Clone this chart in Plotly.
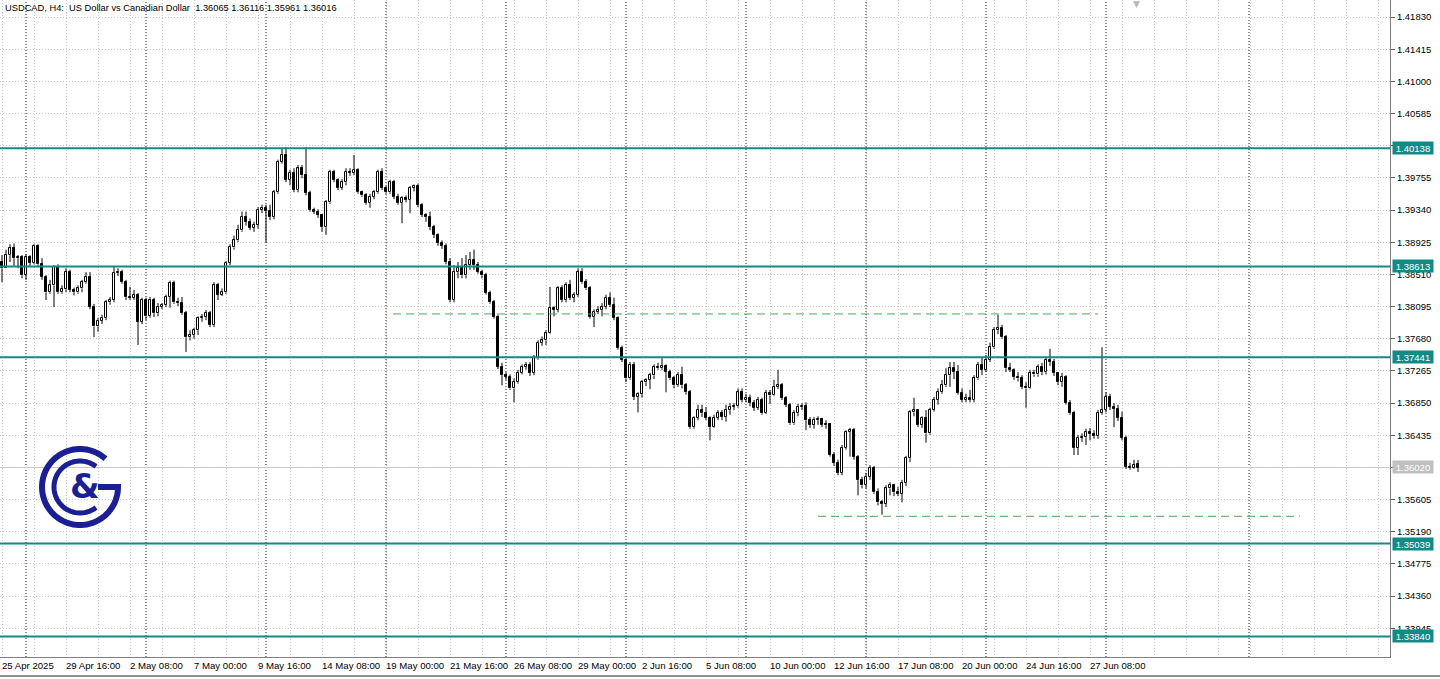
import math
import plotly.graph_objects as go

title_text = "USDCAD, H4:  US Dollar vs Canadian Dollar  1.36065 1.36116 1.35961 1.36016"

opens = [
    1.3867, 1.3859, 1.3876, 1.3885, 1.3872, 1.3873, 1.3850, 1.3873, 1.3866, 1.3888,
    1.3864, 1.3848, 1.3828, 1.3837, 1.3861, 1.3828, 1.3832, 1.3854, 1.3831, 1.3828,
    1.3833, 1.3841, 1.3848, 1.3809, 1.3784, 1.3791, 1.3795, 1.3815, 1.3818, 1.3853,
    1.3854, 1.3841, 1.3822, 1.3821, 1.3825, 1.3790, 1.3818, 1.3797, 1.3818, 1.3801,
    1.3809, 1.3812, 1.3822, 1.3840, 1.3815, 1.3814, 1.3801, 1.3770, 1.3773, 1.3779,
    1.3795, 1.3796, 1.3801, 1.3786, 1.3837, 1.3825, 1.3828, 1.3866, 1.3886, 1.3895,
    1.3908, 1.3925, 1.3919, 1.3911, 1.3915, 1.3934, 1.3937, 1.3933, 1.3925, 1.3957,
    1.3996, 1.4005, 1.3973, 1.3982, 1.3960, 1.3988, 1.3979, 1.3956, 1.3934, 1.3932,
    1.3928, 1.3912, 1.3944, 1.3983, 1.3973, 1.3963, 1.3970, 1.3983, 1.3982, 1.3986,
    1.3957, 1.3953, 1.3943, 1.3951, 1.3957, 1.3983, 1.3963, 1.3957, 1.3970, 1.3951,
    1.3943, 1.3950, 1.3947, 1.3963, 1.3965, 1.3941, 1.3928, 1.3925, 1.3912, 1.3902,
    1.3892, 1.3888, 1.3867, 1.3818, 1.3854, 1.3859, 1.3850, 1.3863, 1.3870, 1.3863,
    1.3854, 1.3850, 1.3827, 1.3815, 1.3796, 1.3732, 1.3721, 1.3719, 1.3704, 1.3712,
    1.3724, 1.3732, 1.3734, 1.3724, 1.3743, 1.3763, 1.3766, 1.3775, 1.3808, 1.3805,
    1.3833, 1.3818, 1.3837, 1.3821, 1.3825, 1.3854, 1.3841, 1.3833, 1.3796, 1.3803,
    1.3805, 1.3809, 1.3821, 1.3812, 1.3795, 1.3756, 1.3741, 1.3717, 1.3734, 1.3693,
    1.3697, 1.3712, 1.3715, 1.3721, 1.3732, 1.3730, 1.3733, 1.3725, 1.3717, 1.3708,
    1.3721, 1.3708, 1.3699, 1.3654, 1.3666, 1.3676, 1.3672, 1.3666, 1.3654, 1.3666,
    1.3672, 1.3667, 1.3676, 1.3680, 1.3681, 1.3699, 1.3689, 1.3692, 1.3685, 1.3679,
    1.3689, 1.3672, 1.3698, 1.3695, 1.3706, 1.3708, 1.3692, 1.3683, 1.3659, 1.3672,
    1.3680, 1.3681, 1.3663, 1.3657, 1.3663, 1.3665, 1.3657, 1.3658, 1.3618, 1.3608,
    1.3595, 1.3627, 1.3648, 1.3650, 1.3616, 1.3586, 1.3579, 1.3590, 1.3601, 1.3570,
    1.3557, 1.3555, 1.3575, 1.3579, 1.3570, 1.3568, 1.3582, 1.3614, 1.3673, 1.3676,
    1.3657, 1.3666, 1.3646, 1.3676, 1.3689, 1.3699, 1.3708, 1.3721, 1.3730, 1.3725,
    1.3698, 1.3689, 1.3692, 1.3689, 1.3717, 1.3734, 1.3728, 1.3741, 1.3757, 1.3779,
    1.3782, 1.3770, 1.3730, 1.3728, 1.3719, 1.3717, 1.3706, 1.3704, 1.3724, 1.3722,
    1.3732, 1.3725, 1.3741, 1.3738, 1.3724, 1.3712, 1.3719, 1.3685, 1.3672, 1.3627,
    1.3640, 1.3641, 1.3648, 1.3645, 1.3643, 1.3672, 1.3676, 1.3693, 1.3680, 1.3678,
    1.3666, 1.3640, 1.3603, 1.3601, 1.36065,
]

highs = [
    1.3876, 1.3883, 1.3890, 1.3891, 1.3876, 1.3876, 1.3877, 1.3876, 1.3890, 1.3890,
    1.3872, 1.3850, 1.3844, 1.3863, 1.3864, 1.3837, 1.3859, 1.3857, 1.3834, 1.3837,
    1.3844, 1.3854, 1.3854, 1.3813, 1.3795, 1.3799, 1.3818, 1.3822, 1.3861, 1.3859,
    1.3857, 1.3844, 1.3835, 1.3831, 1.3827, 1.3821, 1.3821, 1.3822, 1.3821, 1.3814,
    1.3814, 1.3825, 1.3843, 1.3843, 1.3821, 1.3822, 1.3804, 1.3779, 1.3782, 1.3797,
    1.3800, 1.3805, 1.3804, 1.3841, 1.3840, 1.3833, 1.3868, 1.3890, 1.3901, 1.3915,
    1.3932, 1.3932, 1.3923, 1.3919, 1.3938, 1.3941, 1.3941, 1.3941, 1.3960, 1.3999,
    1.4014, 1.4015, 1.3986, 1.3988, 1.3992, 1.3992, 1.4015, 1.3959, 1.3937, 1.3935,
    1.3929, 1.3947, 1.3986, 1.3986, 1.3975, 1.3974, 1.3988, 1.3988, 1.4005, 1.3988,
    1.3959, 1.3956, 1.3955, 1.3960, 1.3986, 1.3988, 1.3965, 1.3973, 1.3973, 1.3955,
    1.3952, 1.3953, 1.3965, 1.3967, 1.3968, 1.3943, 1.3930, 1.3932, 1.3915, 1.3904,
    1.3895, 1.3891, 1.3872, 1.3863, 1.3867, 1.3872, 1.3876, 1.3880, 1.3883, 1.3867,
    1.3857, 1.3853, 1.3830, 1.3818, 1.3799, 1.3737, 1.3725, 1.3722, 1.3717, 1.3728,
    1.3735, 1.3738, 1.3738, 1.3747, 1.3766, 1.3771, 1.3779, 1.3835, 1.3810, 1.3836,
    1.3837, 1.3841, 1.3844, 1.3828, 1.3859, 1.3859, 1.3845, 1.3836, 1.3806, 1.3810,
    1.3814, 1.3825, 1.3828, 1.3821, 1.3797, 1.3759, 1.3743, 1.3738, 1.3738, 1.3699,
    1.3715, 1.3717, 1.3724, 1.3735, 1.3737, 1.3743, 1.3735, 1.3728, 1.3720, 1.3725,
    1.3732, 1.3711, 1.3702, 1.3668, 1.3683, 1.3683, 1.3680, 1.3668, 1.3670, 1.3676,
    1.3676, 1.3683, 1.3685, 1.3685, 1.3704, 1.3704, 1.3697, 1.3696, 1.3689, 1.3693,
    1.3692, 1.3702, 1.3702, 1.3715, 1.3728, 1.3711, 1.3694, 1.3685, 1.3676, 1.3684,
    1.3685, 1.3686, 1.3667, 1.3667, 1.3668, 1.3666, 1.3663, 1.3659, 1.3622, 1.3612,
    1.3631, 1.3650, 1.3653, 1.3653, 1.3618, 1.3590, 1.3595, 1.3605, 1.3604, 1.3575,
    1.3560, 1.3579, 1.3583, 1.3581, 1.3577, 1.3586, 1.3617, 1.3676, 1.3692, 1.3677,
    1.3668, 1.3676, 1.3679, 1.3693, 1.3704, 1.3715, 1.3730, 1.3738, 1.3738, 1.3734,
    1.3704, 1.3697, 1.3702, 1.3721, 1.3738, 1.3744, 1.3747, 1.3763, 1.3783, 1.3799,
    1.3786, 1.3773, 1.3737, 1.3730, 1.3725, 1.3721, 1.3712, 1.3728, 1.3728, 1.3735,
    1.3737, 1.3744, 1.3755, 1.3742, 1.3725, 1.3724, 1.3721, 1.3689, 1.3675, 1.3644,
    1.3646, 1.3652, 1.3653, 1.3650, 1.3676, 1.3757, 1.3699, 1.3697, 1.3685, 1.3683,
    1.3674, 1.3643, 1.3608, 1.3612, 1.36116,
]

lows = [
    1.3841, 1.3859, 1.3867, 1.3861, 1.3859, 1.3846, 1.3844, 1.3862, 1.3864, 1.3861,
    1.3844, 1.3818, 1.3826, 1.3809, 1.3826, 1.3826, 1.3828, 1.3828, 1.3824, 1.3826,
    1.3828, 1.3839, 1.3806, 1.3770, 1.3777, 1.3787, 1.3792, 1.3812, 1.3815, 1.3849,
    1.3839, 1.3818, 1.3818, 1.3818, 1.3760, 1.3787, 1.3792, 1.3795, 1.3796, 1.3797,
    1.3806, 1.3809, 1.3808, 1.3813, 1.3810, 1.3799, 1.3751, 1.3766, 1.3768, 1.3773,
    1.3790, 1.3792, 1.3783, 1.3783, 1.3818, 1.3823, 1.3826, 1.3863, 1.3883, 1.3893,
    1.3906, 1.3914, 1.3908, 1.3906, 1.3910, 1.3930, 1.3892, 1.3921, 1.3922, 1.3955,
    1.3994, 1.3970, 1.3966, 1.3957, 1.3957, 1.3975, 1.3953, 1.3932, 1.3929, 1.3924,
    1.3906, 1.3902, 1.3942, 1.3970, 1.3960, 1.3960, 1.3966, 1.3978, 1.3979, 1.3955,
    1.3951, 1.3941, 1.3937, 1.3948, 1.3955, 1.3960, 1.3955, 1.3955, 1.3948, 1.3941,
    1.3917, 1.3944, 1.3930, 1.3958, 1.3938, 1.3925, 1.3919, 1.3908, 1.3898, 1.3888,
    1.3884, 1.3864, 1.3815, 1.3815, 1.3846, 1.3846, 1.3846, 1.3857, 1.3857, 1.3852,
    1.3846, 1.3825, 1.3813, 1.3794, 1.3729, 1.3708, 1.3715, 1.3702, 1.3686, 1.3710,
    1.3722, 1.3728, 1.3720, 1.3721, 1.3741, 1.3759, 1.3760, 1.3774, 1.3797, 1.3802,
    1.3815, 1.3815, 1.3818, 1.3815, 1.3822, 1.3839, 1.3831, 1.3794, 1.3783, 1.3800,
    1.3797, 1.3806, 1.3809, 1.3792, 1.3754, 1.3738, 1.3712, 1.3715, 1.3689, 1.3673,
    1.3692, 1.3707, 1.3703, 1.3716, 1.3728, 1.3728, 1.3699, 1.3715, 1.3704, 1.3706,
    1.3704, 1.3696, 1.3652, 1.3652, 1.3663, 1.3667, 1.3663, 1.3637, 1.3653, 1.3663,
    1.3663, 1.3661, 1.3670, 1.3676, 1.3679, 1.3686, 1.3686, 1.3681, 1.3675, 1.3676,
    1.3670, 1.3671, 1.3684, 1.3694, 1.3703, 1.3689, 1.3680, 1.3657, 1.3657, 1.3668,
    1.3676, 1.3650, 1.3653, 1.3652, 1.3657, 1.3654, 1.3652, 1.3616, 1.3604, 1.3592,
    1.3592, 1.3625, 1.3616, 1.3612, 1.3566, 1.3575, 1.3575, 1.3586, 1.3568, 1.3553,
    1.3541, 1.3551, 1.3566, 1.3565, 1.3565, 1.3557, 1.3578, 1.3609, 1.3668, 1.3654,
    1.3653, 1.3634, 1.3644, 1.3674, 1.3683, 1.3697, 1.3706, 1.3706, 1.3716, 1.3696,
    1.3686, 1.3686, 1.3686, 1.3686, 1.3715, 1.3721, 1.3725, 1.3738, 1.3755, 1.3774,
    1.3768, 1.3725, 1.3725, 1.3715, 1.3713, 1.3703, 1.3679, 1.3703, 1.3719, 1.3719,
    1.3721, 1.3722, 1.3733, 1.3720, 1.3708, 1.3706, 1.3683, 1.3670, 1.3618, 1.3618,
    1.3635, 1.3631, 1.3637, 1.3639, 1.3639, 1.3670, 1.3673, 1.3676, 1.3654, 1.3662,
    1.3637, 1.3600, 1.3599, 1.3600, 1.35961,
]

closes = [
    1.3859, 1.3876, 1.3885, 1.3872, 1.3873, 1.3850, 1.3873, 1.3866, 1.3888, 1.3864,
    1.3848, 1.3828, 1.3837, 1.3861, 1.3828, 1.3832, 1.3854, 1.3831, 1.3828, 1.3833,
    1.3841, 1.3848, 1.3809, 1.3784, 1.3791, 1.3795, 1.3815, 1.3818, 1.3853, 1.3854,
    1.3841, 1.3822, 1.3821, 1.3825, 1.3790, 1.3818, 1.3797, 1.3818, 1.3801, 1.3809,
    1.3812, 1.3822, 1.3840, 1.3815, 1.3814, 1.3801, 1.3770, 1.3773, 1.3779, 1.3795,
    1.3796, 1.3801, 1.3786, 1.3837, 1.3825, 1.3828, 1.3866, 1.3886, 1.3895, 1.3908,
    1.3925, 1.3919, 1.3911, 1.3915, 1.3934, 1.3937, 1.3933, 1.3925, 1.3957, 1.3996,
    1.4005, 1.3973, 1.3982, 1.3960, 1.3988, 1.3979, 1.3956, 1.3934, 1.3932, 1.3928,
    1.3912, 1.3944, 1.3983, 1.3973, 1.3963, 1.3970, 1.3983, 1.3982, 1.3986, 1.3957,
    1.3953, 1.3943, 1.3951, 1.3957, 1.3983, 1.3963, 1.3957, 1.3970, 1.3951, 1.3943,
    1.3950, 1.3947, 1.3963, 1.3965, 1.3941, 1.3928, 1.3925, 1.3912, 1.3902, 1.3892,
    1.3888, 1.3867, 1.3818, 1.3854, 1.3859, 1.3850, 1.3863, 1.3870, 1.3863, 1.3854,
    1.3850, 1.3827, 1.3815, 1.3796, 1.3732, 1.3721, 1.3719, 1.3704, 1.3712, 1.3724,
    1.3732, 1.3734, 1.3724, 1.3743, 1.3763, 1.3766, 1.3775, 1.3808, 1.3805, 1.3833,
    1.3818, 1.3837, 1.3821, 1.3825, 1.3854, 1.3841, 1.3833, 1.3796, 1.3803, 1.3805,
    1.3809, 1.3821, 1.3812, 1.3795, 1.3756, 1.3741, 1.3717, 1.3734, 1.3693, 1.3697,
    1.3712, 1.3715, 1.3721, 1.3732, 1.3730, 1.3733, 1.3725, 1.3717, 1.3708, 1.3721,
    1.3708, 1.3699, 1.3654, 1.3666, 1.3676, 1.3672, 1.3666, 1.3654, 1.3666, 1.3672,
    1.3667, 1.3676, 1.3680, 1.3681, 1.3699, 1.3689, 1.3692, 1.3685, 1.3679, 1.3689,
    1.3672, 1.3698, 1.3695, 1.3706, 1.3708, 1.3692, 1.3683, 1.3659, 1.3672, 1.3680,
    1.3681, 1.3663, 1.3657, 1.3663, 1.3665, 1.3657, 1.3658, 1.3618, 1.3608, 1.3595,
    1.3627, 1.3648, 1.3650, 1.3616, 1.3586, 1.3579, 1.3590, 1.3601, 1.3570, 1.3557,
    1.3555, 1.3575, 1.3579, 1.3570, 1.3568, 1.3582, 1.3614, 1.3673, 1.3676, 1.3657,
    1.3666, 1.3646, 1.3676, 1.3689, 1.3699, 1.3708, 1.3721, 1.3730, 1.3725, 1.3698,
    1.3689, 1.3692, 1.3689, 1.3717, 1.3734, 1.3728, 1.3741, 1.3757, 1.3779, 1.3782,
    1.3770, 1.3730, 1.3728, 1.3719, 1.3717, 1.3706, 1.3704, 1.3724, 1.3722, 1.3732,
    1.3725, 1.3741, 1.3738, 1.3724, 1.3712, 1.3719, 1.3685, 1.3672, 1.3627, 1.3640,
    1.3641, 1.3648, 1.3645, 1.3643, 1.3672, 1.3676, 1.3693, 1.3680, 1.3678, 1.3666,
    1.3640, 1.3603, 1.3601, 1.3605, 1.36016,
]

time_labels = ["25 Apr 2025", "29 Apr 16:00", "2 May 08:00", "7 May 00:00", "9 May 16:00",
               "14 May 08:00", "19 May 00:00", "21 May 16:00", "26 May 08:00", "29 May 00:00",
               "2 Jun 16:00", "5 Jun 08:00", "10 Jun 00:00", "12 Jun 16:00", "17 Jun 08:00",
               "20 Jun 00:00", "24 Jun 16:00", "27 Jun 08:00"]
label_bars = [0, 16, 32, 48, 64, 80, 96, 112, 128, 144, 160, 176, 192, 208, 224, 240, 256, 272]

price_ticks = [1.33945, 1.34360, 1.34775, 1.35190, 1.35605, 1.36020, 1.36435, 1.36850,
               1.37265, 1.37680, 1.38095, 1.38510, 1.38925, 1.39340, 1.39755, 1.40170,
               1.40585, 1.41000, 1.41415, 1.41830]

level_prices = [1.40138, 1.38613, 1.37441, 1.35039, 1.33840]
bid_price = 1.36020
week_separator_bars = [6, 36, 66, 96, 126, 156, 186, 216, 246, 276, 311.75]
dashed_starts = [97.75, 204]
dashed_ends = [274, 324.5]
dashed_prices = [1.3800, 1.3539]

TEAL = "#128a86"
NAVY = "#1b1f96"
FONT = "Liberation Sans, Arial, sans-serif"
PLOT_W, PLOT_H = 1390, 657

bars = list(range(len(closes)))
body_base = [min(o, c) for o, c in zip(opens, closes)]
body_size = [abs(c - o) for o, c in zip(opens, closes)]
body_fill = ["#ffffff" if c >= o else "#000000" for o, c in zip(opens, closes)]

wick_x, wick_y = [], []
for i, o, h, l, c in zip(bars, opens, highs, lows, closes):
    top, bot = max(o, c), min(o, c)
    wick_x += [i, i, None, i, i, None]
    wick_y += [h, top, None, bot, l, None]

fig = go.Figure()
fig.add_trace(go.Scatter(x=wick_x, y=wick_y, mode="lines", line=dict(color="#000000", width=1),
                         hoverinfo="skip", showlegend=False, connectgaps=False))
fig.add_trace(go.Bar(x=bars, y=body_size, base=body_base, width=0.72,
                     marker=dict(color=body_fill, line=dict(color="#000000", width=1)),
                     hoverinfo="skip", showlegend=False))

shapes = []
for b in week_separator_bars:
    shapes.append(dict(type="line", xref="x", yref="paper", x0=b, x1=b, y0=0, y1=1,
                       line=dict(color="#202020", width=1, dash="1px,2px"), layer="below"))
shapes.append(dict(type="line", xref="paper", yref="y", x0=0, x1=1, y0=bid_price, y1=bid_price,
                   line=dict(color="#c8c8c8", width=1), layer="below"))
for p in level_prices:
    shapes.append(dict(type="line", xref="paper", yref="y", x0=0, x1=1, y0=p, y1=p,
                       line=dict(color=TEAL, width=2)))
for s, e, p in zip(dashed_starts, dashed_ends, dashed_prices):
    shapes.append(dict(type="line", xref="x", yref="y", x0=s, x1=e, y0=p, y1=p,
                       line=dict(color="#4caa52", width=1, dash="8px,5px")))

def pp(px, py):
    return f"{px / PLOT_W:.5f},{1 - py / PLOT_H:.5f}"

cx, cy = 80, 487
outer = [pp(cx + 38 * math.cos(math.radians(a)), cy - 38 * math.sin(math.radians(a)))
         for a in range(48, 361, 4)]
outer_path = "M" + " L".join(outer) + " L" + pp(98, cy)
inner = [pp(cx + 26 * math.cos(math.radians(a)), cy - 26 * math.sin(math.radians(a)))
         for a in range(52, 310, 4)]
inner_path = "M" + " L".join(inner)
for path, w in [(outer_path, 6), (inner_path, 5)]:
    shapes.append(dict(type="path", xref="paper", yref="paper", path=path,
                       line=dict(color=NAVY, width=w)))

shapes.append(dict(type="line", xref="paper", yref="paper", x0=0, x1=1440 / PLOT_W,
                   y0=-19 / PLOT_H, y1=-19 / PLOT_H, line=dict(color="#909090", width=2)))

annotations = []
annotations.append(dict(text=title_text, xref="paper", yref="paper", x=0, y=1, xanchor="left",
                        yanchor="top", xshift=3, yshift=-1, showarrow=False,
                        font=dict(family=FONT, size=9.3, color="#000000")))
for b, t in zip(label_bars, time_labels):
    annotations.append(dict(text=t, xref="x", yref="paper", x=b, y=0, xanchor="left",
                            yanchor="top", xshift=-2, yshift=-1, showarrow=False,
                            font=dict(family=FONT, size=9.6, color="#000000")))
for p in level_prices:
    annotations.append(dict(text=f"{p:.5f}", xref="paper", yref="y", x=1, y=p, xanchor="left",
                            yanchor="middle", xshift=2, showarrow=False, bgcolor=TEAL,
                            width=38, height=10, borderpad=1,
                            font=dict(family=FONT, size=9.5, color="#ffffff")))
annotations.append(dict(text=f"{bid_price:.5f}", xref="paper", yref="y", x=1, y=bid_price,
                        xanchor="left", yanchor="middle", xshift=2, showarrow=False,
                        bgcolor="#c0c0c0", width=38, height=10, borderpad=1,
                        font=dict(family=FONT, size=9.5, color="#ffffff")))
annotations.append(dict(text="▼", xref="x", yref="paper", x=len(closes) - 1.5, y=1,
                        yanchor="top", showarrow=False, yshift=3,
                        font=dict(family="DejaVu Sans", size=9, color="#b8b8b8")))
annotations.append(dict(text="<b>&amp;</b>", xref="paper", yref="paper",
                        x=85 / PLOT_W, y=1 - 486 / PLOT_H, xanchor="center", yanchor="middle",
                        showarrow=False, font=dict(family="DejaVu Sans", size=34, color=NAVY)))

fig.update_layout(
    width=1440, height=679, margin=dict(l=0, r=50, t=0, b=22),
    paper_bgcolor="#ffffff", plot_bgcolor="#ffffff",
    font=dict(family=FONT, size=9.5, color="#000000"),
    shapes=shapes, annotations=annotations, showlegend=False, bargap=0,
)
fig.update_xaxes(range=[-0.5, 347], tickmode="linear", tick0=0, dtick=8,
                 showticklabels=False, ticks="", showgrid=True, gridcolor="#c8c8c8",
                 griddash="1px,2px", gridwidth=1, showline=True, linecolor="#808080",
                 linewidth=1, zeroline=False)
fig.update_yaxes(range=[1.33575, 1.4205], side="right", tickmode="array", tickvals=price_ticks,
                 ticktext=[f"{v:.5f}" for v in price_ticks], ticks="outside", ticklen=4,
                 tickcolor="#606060", showgrid=True, gridcolor="#c8c8c8", griddash="1px,2px",
                 showline=True, linecolor="#808080", linewidth=1, mirror=True, zeroline=False,
                 tickfont=dict(family=FONT, size=9.5, color="#000000"))

fig.write_html("out.html", config={"displayModeBar": False},
               post_script="document.body.style.margin='0px';")
